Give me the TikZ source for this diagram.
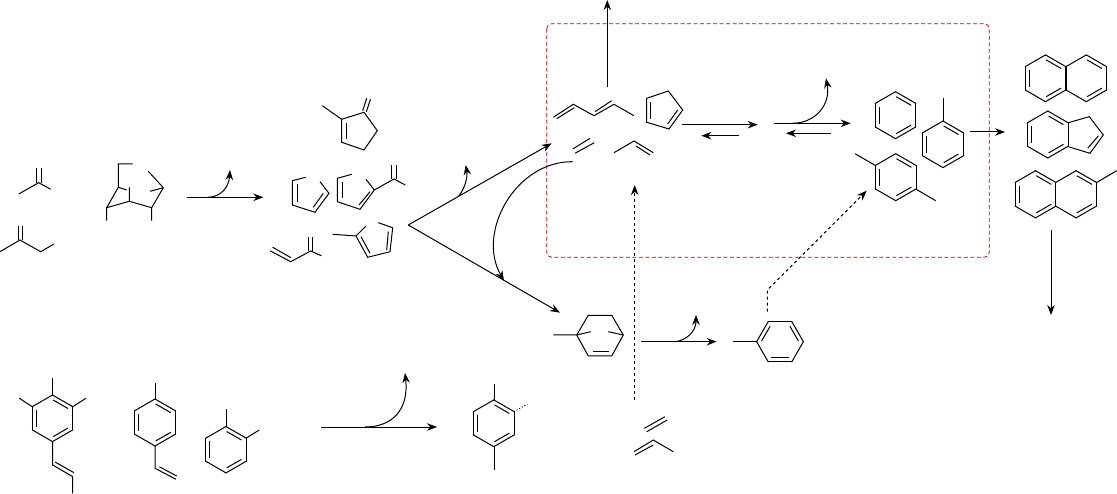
\documentclass[tikz,border=0pt]{standalone}
\usetikzlibrary{arrows.meta}

\begin{document}
\begin{tikzpicture}[x=1pt, y=-1pt, line width=1pt, >={Stealth[length=10pt,width=7.5pt]}]
            \useasboundingbox (0, 0) rectangle (1117, 494);

            \newcommand{\hexring}[5]{
                \foreach \a in {0,60,...,300}
                    \draw[shift={(#1, #2)}, line cap=round] (\a+#4:#3pt) -- (\a+60+#4:#3pt);
                \foreach \a in {#5}
                    \draw[shift={(#1, #2)}, shorten >=0.8pt, shorten <=0.8pt] (\a:#3pt-4.6pt) -- (\a+60:#3pt-4.6pt);
            }
            \newcommand{\benzring}[3]{\hexring{#1}{#2}{#3}{30}{150,30,270}}

            % reactive zone
            \draw[red!75!black, line width=0.7pt, dash pattern=on 4pt off 2.5pt, rounded corners=5pt] (546.7, 23.7) rectangle (989.3, 257.3);

            % feeds, upper left
            \draw (18.7, 194) -- (38.7, 182.7) -- (50.7, 189.3);
            \draw (36.7, 182.7) -- (36.7, 168.3);
            \draw (41.3, 182.7) -- (41.3, 168.3);
            \draw (0, 251.7) -- (20, 240) -- (40.7, 251.7) -- (54, 244);
            \draw (18, 240) -- (18, 226);
            \draw (22.7, 240) -- (22.7, 226);
            \draw (132.7, 164) -- (118.3, 164) -- (118.3, 187.3) -- (106.7, 207.7) -- (106.7, 220.7);
            \draw (106.7, 207.7) -- (129.3, 201.3) -- (129.3, 187.3);
            \draw (118.3, 187.3) -- (126.7, 190);
            \draw (129.3, 201.3) -- (151.7, 207.7) -- (151.7, 220.7);
            \draw (151.7, 207.7) -- (163.3, 187.7) -- (148.3, 171.3);
            \draw (163.3, 187.7) -- (150, 191.3);

            % dienes
            \draw (341.7, 119.3) -- (364, 112.3) -- (377.3, 130.7) -- (364, 150) -- (341.7, 142.3) -- cycle;
            \draw (322.3, 105.7) -- (341.7, 119.3);
            \draw (346, 122.7) -- (346, 139.3);
            \draw (362.7, 110.7) -- (366.7, 98.3);
            \draw (366.3, 111.8) -- (370.5, 99.3);
            \draw (305.7, 177.3) -- (292.3, 180.7) -- (292.3, 205) -- (315, 212.3) -- (329, 193.3) -- (320, 181.7);
            \draw (297.3, 184) -- (297.3, 201.7);
            \draw (323.3, 193.3) -- (313.3, 207.3);
            \draw (351.7, 174.3) -- (337.3, 178.3) -- (337.3, 201.7) -- (360, 209.3) -- (374.3, 190) -- (366, 179.3);
            \draw (342, 181.7) -- (342, 198.3);
            \draw (370, 191.7) -- (359, 205);
            \draw (374.3, 190) -- (394, 179) -- (405.3, 185);
            \draw (391.7, 179) -- (391.7, 165);
            \draw (396, 179) -- (396, 165);
            \draw (332.7, 234.3) -- (356, 236) -- (366, 226);
            \draw (378.3, 222.7) -- (392.7, 227.7) -- (390, 251.7) -- (367.7, 257.3) -- (356, 236);
            \draw (388.3, 231.7) -- (386.7, 250);
            \draw (361, 236.7) -- (370, 253.3);
            \draw (270, 250.7) -- (290.7, 261.7) -- (310.7, 251) -- (321.3, 255.7);
            \draw (272.7, 247.3) -- (291, 257.7);
            \draw (308.7, 251) -- (308.7, 236.7);
            \draw (312.7, 251) -- (312.7, 236.7);

            % feeds, lower left
            \benzring{52.5}{418.3}{23.3}
            \draw (52.7, 395) -- (52.7, 378.3);
            \draw (32.3, 406.7) -- (19.3, 398.3);
            \draw (72.7, 406.7) -- (86, 398.3);
            \draw (52.7, 441.7) -- (52.7, 465) -- (72.7, 476.7) -- (72.7, 493.3);
            \draw (55, 462) -- (74, 472.7);
            \benzring{155}{422.5}{23.5}
            \draw (155, 399) -- (155, 382.7);
            \draw (155, 446) -- (155, 468.3) -- (176, 479.3);
            \draw (159.3, 466.7) -- (176.7, 476);
            \benzring{226}{449.7}{23.2}
            \draw (226, 426.5) -- (226, 409.3);
            \draw (246.1, 438.1) -- (259.3, 430);

            % xylene below
            \benzring{493.8}{423.3}{23.4}
            \draw (494, 400) -- (494, 384);
            \draw (494, 446.7) -- (494, 470);
            \draw[dotted] (514, 411.7) -- (527.3, 404);

            % small olefins, bottom
            \draw (644.3, 428.3) -- (665, 416.7);
            \draw (646.7, 431.7) -- (667.3, 420);
            \draw (634, 451.7) -- (653.3, 440) -- (673.3, 451.7);
            \draw (635, 455) -- (653.3, 445);

            % inside the box
            \draw (553.3, 117.3) -- (573.3, 104.3) -- (594, 115.7) -- (614, 104.3) -- (634, 115.7);
            \draw (556.7, 118.7) -- (574.3, 107.7);
            \draw (595, 111.7) -- (611.7, 100.7);
            \draw (646.7, 98.3) -- (668.3, 91) -- (682.7, 110) -- (669, 129) -- (646.7, 122.3) -- cycle;
            \draw (650.3, 101.7) -- (650.3, 119.3);
            \draw (677.7, 110) -- (667.7, 124);
            \draw (572.7, 149) -- (590, 138.3);
            \draw (575, 153.3) -- (594.3, 142.7);
            \draw (614, 152.7) -- (634, 141) -- (653.3, 152.7);
            \draw (636, 146) -- (650, 155);
            \benzring{895.5}{115.2}{23.5}
            \benzring{943}{144.3}{23.3}
            \draw (943, 121) -- (943, 97.7);
            \benzring{895.7}{177.2}{23.5}
            \draw (875, 165.3) -- (855, 153.7);
            \draw (915.7, 189) -- (935.7, 200.7);

            % bicyclic and toluene
            \draw (553.3, 335) -- (576.7, 335) -- (588.3, 315.3) -- (611.7, 315.3) -- (623.3, 335) -- (611.7, 356) -- (588.3, 356) -- (576.7, 335);
            \draw (592.7, 352) -- (609, 352);
            \draw (576.7, 335) -- (590.7, 331.7);
            \draw (623.3, 335) -- (608.3, 331.7);
            \hexring{780}{341.7}{23.4}{0}{0,120,240}
            \draw (733.3, 341.7) -- (756.6, 341.7);

            % aromatics, right
            \hexring{1045.5}{78.3}{23.4}{30}{150,30,270}
            \hexring{1086.3}{78.3}{23.4}{30}{30,270}
            \benzring{1047.8}{134.5}{23.5}
            \draw (1068.3, 122.7) -- (1089.3, 116.7) -- (1103.3, 135) -- (1090, 153.3) -- (1068.3, 146.7);
            \draw (1098.3, 136) -- (1087.7, 148.3);
            \hexring{1035.5}{194.3}{23.6}{30}{150,30,270}
            \hexring{1076.1}{194.3}{23.6}{30}{30,270}
            \draw (1096.6, 182.5) -- (1116.7, 170.7);

            % arrow ends
            \coordinate (feedEnd) at (186.7, 197.3);
            \coordinate (dieneEnd) at (263.3, 197.3);
            \coordinate (lossA) at (208, 197.3);
            \coordinate (lossAtip) at (230, 170);
            \coordinate (apex) at (408.3, 225);
            \coordinate (boxIn) at (551.7, 143.3);
            \coordinate (bicycIn) at (560, 312.7);
            \coordinate (lossB) at (458.3, 196.7);
            \coordinate (lossBtip) at (465.7, 165);
            \coordinate (olefin) at (572.7, 161.7);
            \coordinate (bicycTip) at (504, 280.7);
            \coordinate (dieneUp) at (607.3, 87.3);
            \coordinate (dieneTop) at (607.3, 0);
            \coordinate (cpdR) at (681.7, 124.7);
            \coordinate (cpdRtip) at (757.7, 124.7);
            \coordinate (cpdL) at (739, 135.7);
            \coordinate (cpdLtip) at (701.3, 135.7);
            \coordinate (benzR) at (774, 123.3);
            \coordinate (benzRtip) at (850.7, 123.3);
            \coordinate (benzL) at (830.7, 133.3);
            \coordinate (benzLtip) at (786, 133.3);
            \coordinate (lossC) at (792.3, 123.3);
            \coordinate (lossCtip) at (826, 78.3);
            \coordinate (toluR) at (970, 132);
            \coordinate (toluRtip) at (1005, 132);
            \coordinate (pahDown) at (1051, 230);
            \coordinate (pahTip) at (1051, 315);
            \coordinate (bicycR) at (640.7, 341.7);
            \coordinate (bicycRtip) at (716.7, 341.7);
            \coordinate (lossD) at (673.3, 341.7);
            \coordinate (lossDtip) at (696, 315);
            \coordinate (toluUp) at (767.3, 311.7);
            \coordinate (toluBend) at (767.3, 290);
            \coordinate (xylTip) at (866.7, 190.7);
            \coordinate (olefinUp) at (634.7, 400);
            \coordinate (olefinTip) at (634.7, 185);
            \coordinate (aromR) at (321, 427);
            \coordinate (aromRtip) at (437, 427);
            \coordinate (lossE) at (365, 427);
            \coordinate (lossEtip) at (405, 373);

            % arrows
            \draw[->] (feedEnd) -- (dieneEnd);
            \draw[->] (lossA) .. controls (222, 197) and (229, 186) .. (lossAtip);
            \draw[->] (apex) -- (boxIn);
            \draw[->] (apex) -- (bicycIn);
            \draw[->] (lossB) .. controls (464, 190) and (468, 178) .. (lossBtip);
            \draw[->] (olefin) .. controls (516, 161) and (476, 232) .. (bicycTip);
            \draw[->] (dieneUp) -- (dieneTop);
            \draw[->] (cpdR) -- (cpdRtip);
            \draw[->] (cpdL) -- (cpdLtip);
            \draw[->] (benzR) -- (benzRtip);
            \draw[->] (benzL) -- (benzLtip);
            \draw[->] (lossC) .. controls (815, 123.3) and (831, 105) .. (lossCtip);
            \draw[->] (toluR) -- (toluRtip);
            \draw[->] (pahDown) -- (pahTip);
            \draw[->] (bicycR) -- (bicycRtip);
            \draw[->] (lossD) .. controls (685, 341.7) and (696, 332) .. (lossDtip);
            \draw[->, dashed] (toluUp) -- (toluBend) -- (xylTip);
            \draw[->, dashed] (olefinUp) -- (olefinTip);
            \draw[->] (aromR) -- (aromRtip);
            \draw[->] (lossE) .. controls (392, 427) and (409, 410) .. (lossEtip);
        \end{tikzpicture}
\end{document}
